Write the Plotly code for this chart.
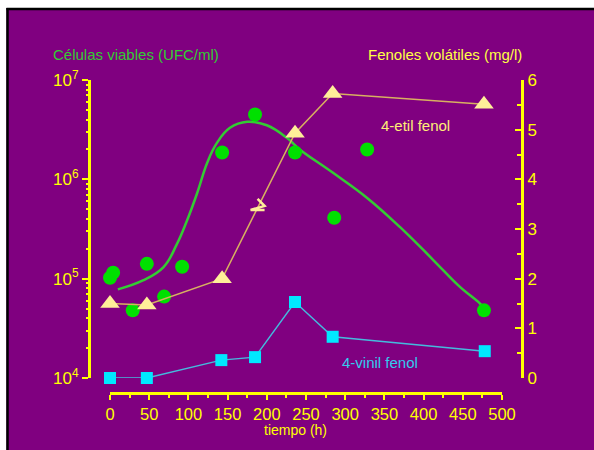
import plotly.graph_objects as go

# ---------------- data ----------------
cell_time = [0, 4, 29, 47, 69, 92, 143, 185, 236, 286, 328, 477]
cell_ufc = [1.02e5, 1.15e5, 4.8e4, 1.41e5, 6.6e4, 1.32e5, 1.86e6, 4.5e6, 1.86e6, 4.1e5, 2.0e6, 4.8e4]

fit_time = [10, 42, 68, 85, 98, 111, 124, 136, 153, 175, 200, 226, 242, 284, 328, 370, 412, 446, 472, 477]
fit_ufc = [7.8e4, 9.6e4, 1.3e5, 2.2e5, 3.8e5, 7.2e5, 1.47e6, 2.3e6, 3.3e6, 3.8e6, 3.5e6, 2.6e6,
           2.0e6, 1.17e6, 6.5e5, 3.3e5, 1.55e5, 8.3e4, 5.6e4, 5.0e4]

etil_time = [0, 47, 143, 236, 284, 477]
etil_mgl = [1.5, 1.47, 2.0, 4.93, 5.73, 5.51]

vinil_time = [0, 47, 142, 185, 236, 284, 478]
vinil_mgl = [0.0, 0.0, 0.36, 0.42, 1.53, 0.83, 0.54]

x_ticks = [0, 50, 100, 150, 200, 250, 300, 350, 400, 450, 500]
left_tickvals = [1e4, 1e5, 1e6, 1e7]
left_ticktext = ["10<sup>4</sup>", "10<sup>5</sup>", "10<sup>6</sup>", "10<sup>7</sup>"]
right_ticks = [0, 1, 2, 3, 4, 5, 6]

# ---------------- style ----------------
PURPLE = "#800080"
YELLOW = "#ffff00"
GREEN_DOT = "#00e000"
GREEN_LINE = "#33cc33"
TRI_FILL = "#ffee99"
TRI_LINE = "#d8b060"
CYAN = "#00e8ff"
CYAN_LINE = "#44bbdd"
FONT = "Liberation Sans, Arial, sans-serif"

W, H = 594, 450
ML, MT = 89, 80
MR, MB = W - 522, H - 393
PW, PH = W - ML - MR, H - MT - MB


def px_x(p):
    """page x pixel -> paper fraction"""
    return (p - ML) / PW


def px_y(p):
    """page y pixel -> paper fraction"""
    return (H - MB - p) / PH


fig = go.Figure()

fig.add_trace(go.Scatter(
    x=fit_time, y=fit_ufc, mode="lines", line=dict(color=GREEN_LINE, width=2.5, shape="spline", smoothing=1.2),
    yaxis="y", cliponaxis=False, showlegend=False, hoverinfo="skip"))
fig.add_trace(go.Scatter(
    x=etil_time, y=etil_mgl, mode="lines", line=dict(color=TRI_LINE, width=1.5),
    yaxis="y2", cliponaxis=False, showlegend=False))
fig.add_trace(go.Scatter(
    x=vinil_time, y=vinil_mgl, mode="lines", line=dict(color=CYAN_LINE, width=1.5),
    yaxis="y2", cliponaxis=False, showlegend=False))
fig.add_trace(go.Scatter(
    x=cell_time, y=cell_ufc, mode="markers", marker=dict(color=GREEN_DOT, size=14, symbol="circle"),
    yaxis="y", cliponaxis=False, showlegend=False))
fig.add_trace(go.Scatter(
    x=etil_time, y=etil_mgl, mode="markers", marker=dict(color=TRI_FILL, size=17, symbol="triangle-up"),
    yaxis="y2", cliponaxis=False, showlegend=False))
fig.add_trace(go.Scatter(
    x=vinil_time, y=vinil_mgl, mode="markers", marker=dict(color=CYAN, size=12, symbol="square"),
    yaxis="y2", cliponaxis=False, showlegend=False))

tickfont_y = dict(family=FONT, size=17, color=YELLOW)
tickfont_x = dict(family=FONT, size=16.5, color=YELLOW)

fig.update_layout(
    width=W, height=H,
    margin=dict(l=ML, r=MR, t=MT, b=MB, pad=0),
    paper_bgcolor=PURPLE, plot_bgcolor=PURPLE,
    showlegend=False,
    xaxis=dict(
        domain=[px_x(110), px_x(502)], range=[0, 500], anchor="free", position=0,
        showline=True, linecolor=YELLOW, linewidth=3, showgrid=False, zeroline=False,
        tickvals=x_ticks, ticks="outside", ticklen=5, tickwidth=2, tickcolor=YELLOW,
        minor=dict(dtick=25, tick0=0, ticks="outside", ticklen=3, tickwidth=2, tickcolor=YELLOW),
        tickfont=tickfont_x,
    ),
    yaxis=dict(
        type="log", domain=[px_y(378), 1], range=[4, 7], anchor="free", position=0,
        showline=True, linecolor=YELLOW, linewidth=3, showgrid=False, zeroline=False,
        tickvals=left_tickvals, ticktext=left_ticktext, ticks="outside", ticklen=6, tickwidth=2,
        tickcolor=YELLOW, tickfont=tickfont_y,
        minor=dict(dtick="D1", ticks="outside", ticklen=2, tickwidth=2, tickcolor=YELLOW),
    ),
    yaxis2=dict(
        domain=[px_y(378), 1], range=[0, 6], overlaying="y", side="right", anchor="free", position=1,
        showline=True, linecolor=YELLOW, linewidth=3, showgrid=False, zeroline=False,
        tickvals=right_ticks, ticks="inside", ticklen=6, tickwidth=2, tickcolor=YELLOW,
        minor=dict(dtick=0.5, tick0=0, ticks="inside", ticklen=4, tickwidth=2, tickcolor=YELLOW),
        tickfont=tickfont_y,
    ),
)

ann_font = dict(family=FONT, size=15)
common = dict(showarrow=False, xanchor="center", yanchor="middle")
fig.add_annotation(text="Células viables (UFC/ml)", xref="paper", yref="paper",
                   x=px_x(136), y=px_y(54), font=dict(ann_font, color=GREEN_LINE), **common)
fig.add_annotation(text="Fenoles volátiles (mg/l)", xref="paper", yref="paper",
                   x=px_x(445), y=px_y(54), font=dict(ann_font, color="#ffff44"), **common)
fig.add_annotation(text="4-etil fenol", xref="x", yref="y2", x=390, y=5.09,
                   font=dict(ann_font, color="#ffee77"), **common)
fig.add_annotation(text="4-vinil fenol", xref="x", yref="y2", x=344, y=0.32,
                   font=dict(ann_font, color="#33ccee"), **common)
fig.add_annotation(text="tiempo (h)", xref="paper", yref="paper", x=px_x(295), y=px_y(430),
                   font=dict(family=FONT, size=14, color=YELLOW), **common)

# break symbol on the 4-etil fenol line, anchored midway between two data points
mid_t = (etil_time[2] + etil_time[3]) / 2
mid_v = (etil_mgl[2] + etil_mgl[3]) / 2
fig.add_shape(type="path", xref="x", yref="y2", xsizemode="pixel", ysizemode="pixel",
              xanchor=mid_t, yanchor=mid_v, path="M -1,7 L 6,0 L -8,-4 L 6,-4",
              line=dict(color=TRI_FILL, width=2.5))

# white page strip + black frame on the top and left edges
fig.add_shape(type="rect", xref="paper", yref="paper", x0=px_x(-5), x1=px_x(W + 5),
              y0=px_y(8), y1=px_y(-5), fillcolor="white", line=dict(width=0), layer="above")
fig.add_shape(type="rect", xref="paper", yref="paper", x0=px_x(-5), x1=px_x(6.5),
              y0=px_y(H + 5), y1=px_y(-5), fillcolor="white", line=dict(width=0), layer="above")
fig.add_shape(type="line", xref="paper", yref="paper", x0=px_x(6.5), x1=px_x(W + 5),
              y0=px_y(9), y1=px_y(9), line=dict(color="black", width=2.5), layer="above")
fig.add_shape(type="line", xref="paper", yref="paper", x0=px_x(7.5), x1=px_x(7.5),
              y0=px_y(H + 5), y1=px_y(8), line=dict(color="black", width=2.5), layer="above")

# place the figure at the page corner and keep the window free of scrollbars
fig.write_html("out.html", config={"displayModeBar": False},
               post_script="document.body.style.margin='0';"
                           "document.documentElement.style.overflow='hidden';"
                           "document.body.style.overflow='hidden';")
